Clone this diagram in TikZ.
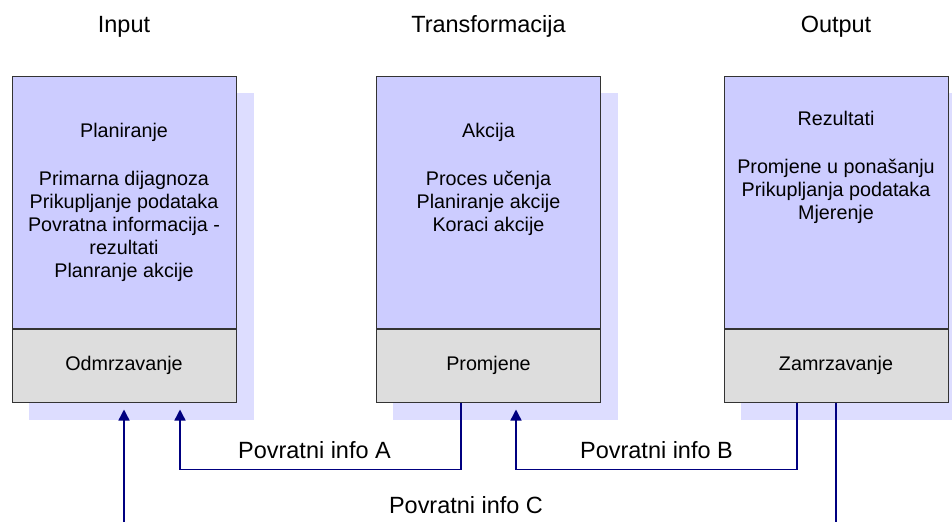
\documentclass[tikz,border=0pt]{standalone}
\usepackage{fontspec}
\setmainfont{Liberation Sans}
\usetikzlibrary{positioning,arrows.meta,backgrounds}
\definecolor{panelfill}{RGB}{204,204,255}
\definecolor{shadefill}{RGB}{221,221,255}
\definecolor{footfill}{RGB}{221,221,221}
\definecolor{infoblue}{RGB}{0,0,128}
\newcommand{\boxfont}{\fontsize{14.8pt}{17.25pt}\selectfont}
\newcommand{\headfont}{\fontsize{17.6pt}{21pt}\selectfont}
\tikzset{
  panel/.style={draw=black!80, line width=0.75pt, fill=panelfill, minimum width=168pt,
    minimum height=189pt, inner sep=0pt},
  foot/.style={panel, fill=footfill, minimum height=54.75pt, font=\boxfont},
  boxtext/.style={align=center, inner sep=0pt, font=\boxfont},
  head/.style={font=\headfont},
  lbl/.style={font=\headfont, inner sep=0pt},
  infoline/.style={draw=infoblue, line width=1.1pt},
  fb/.style={infoline, -{Triangle[width=8.25pt,length=8.25pt]}, shorten >=5.25pt}
}
\begin{document}
\begin{tikzpicture}[x=0.75pt,y=-0.75pt]
\useasboundingbox (0,0) rectangle (952,522);

% headings
\node[head] (hin) at (124,26.5) {Input};
\node[head] (htrans) at (488.5,26.5) {Transformacija};
\node[head] (hout) at (836,26.5) {Output};

% input box
\node[panel] (plan) at (124,202) {};
\node[foot, below=0pt of plan] (odmr) {Odmrzavanje};
\node[boxtext, below=35.25pt of plan.north] (plantxt) {Planiranje\\[18.75pt]
  Primarna dijagnoza\\ Prikupljanje podataka\\ Povratna informacija -\\
  rezultati\\ Planranje akcije};

% transformation box
\node[panel] (akc) at (488.5,202) {};
\node[foot, below=0pt of akc] (prom) {Promjene};
\node[boxtext, below=35.25pt of akc.north] (akctxt) {Akcija\\[18.75pt]
  Proces učenja\\ Planiranje akcije\\ Koraci akcije};

% output box
\node[panel] (rez) at (836,202) {};
\node[foot, below=0pt of rez] (zamr) {Zamrzavanje};
\node[boxtext, below=26.25pt of rez.north] (reztxt) {Rezultati\\[18.75pt]
  Promjene u ponašanju\\ Prikupljanja podataka\\ Mjerenje};

% shadows behind the boxes
\begin{scope}[on background layer]
\foreach \up/\down in {plan/odmr, akc/prom, rez/zamr}
  \fill[shadefill] ([shift={(12.75pt,-12.75pt)}]\up.north west)
    rectangle ([shift={(12.75pt,-12.75pt)}]\down.south east);
\end{scope}

% feedback
\draw[fb] ([xshift=-20.625pt]prom.south) -- ++(0,67)
  -| node[lbl, pos=0.25, above=7.2pt, xshift=-4.5pt] (infoA) {Povratni info A}
  ([xshift=42pt]odmr.south);
\draw[fb] ([xshift=-29.25pt]zamr.south) -- ++(0,67)
  -| node[lbl, pos=0.25, above=7.2pt] (infoB) {Povratni info B}
  ([xshift=20.625pt]prom.south);

\coordinate (inbot) at (124,522);
\coordinate (cbot) at (836,522);
\draw[fb] (inbot) -- (odmr.south);
\draw[infoline] (zamr.south) -- (cbot);
\node[lbl] (infoC) at (466,505) {Povratni info C};

\end{tikzpicture}
\end{document}
